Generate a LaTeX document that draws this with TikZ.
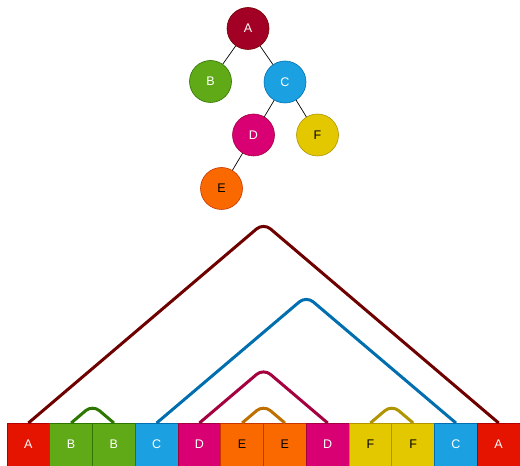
\documentclass[tikz,border=0pt]{standalone}
\usepackage{fontspec}
\setmainfont{Liberation Sans}
\usepackage{xcolor}
\usetikzlibrary{positioning,calc}

\definecolor{fillA}{HTML}{A20025}
\definecolor{fillAred}{HTML}{E51400}
\definecolor{fillB}{HTML}{60A917}
\definecolor{fillC}{HTML}{1BA1E2}
\definecolor{fillD}{HTML}{D80073}
\definecolor{fillE}{HTML}{FA6800}
\definecolor{fillF}{HTML}{E3C800}
\definecolor{lineA}{HTML}{6F0000}
\definecolor{lineAred}{HTML}{B20000}
\definecolor{lineB}{HTML}{2D7600}
\definecolor{lineC}{HTML}{006EAF}
\definecolor{lineD}{HTML}{A50040}
\definecolor{lineE}{HTML}{C73500}
\definecolor{lineF}{HTML}{B09500}
\definecolor{arcE}{HTML}{BD7000}

\begin{document}
\begin{tikzpicture}[x=1pt,y=1pt,
  vertex/.style={draw,circle,minimum size=42pt,inner sep=0pt,font=\fontsize{12.5}{14}\selectfont,line width=0.6pt},
  cell/.style={draw,rectangle,minimum width=42.75pt,minimum height=43pt,inner sep=0pt,outer sep=0pt,font=\fontsize{12.5}{14}\selectfont,line width=0.8pt},
  edge/.style={line width=0.7pt,black},
  span/.style={line width=3pt,rounded corners=9pt}
]
\useasboundingbox (0,0) rectangle (520,466);

% Tree
\node[vertex,fill=fillA,draw=lineA,text=white] (ta) at (248,437.5) {A};
\node[vertex,fill=fillB,draw=lineB,text=white] (tb) at (210.5,384.5) {B};
\node[vertex,fill=fillC,draw=lineC,text=white] (tc) at (285,384) {C};
\node[vertex,fill=fillD,draw=lineD,text=white] (td) at (253.5,331) {D};
\node[vertex,fill=fillF,draw=lineF,text=black] (tf) at (317.5,331) {F};
\node[vertex,fill=fillE,draw=lineE,text=black] (te) at (221.5,277.5) {E};

\draw[edge] (ta) -- (tb);
\draw[edge] (ta) -- (tc);
\draw[edge] (tc) -- (td);
\draw[edge] (tc) -- (tf);
\draw[edge] (td) -- (te);

% Euler tour cells
\node[cell,fill=fillAred,draw=lineAred,text=white] (c1) at (28.4,21.5) {A};
\node[cell,fill=fillB,draw=lineB,text=white,right=0pt of c1] (c2) {B};
\node[cell,fill=fillB,draw=lineB,text=white,right=0pt of c2] (c3) {B};
\node[cell,fill=fillC,draw=lineC,text=white,right=0pt of c3] (c4) {C};
\node[cell,fill=fillD,draw=lineD,text=white,right=0pt of c4] (c5) {D};
\node[cell,fill=fillE,draw=lineE,text=black,right=0pt of c5] (c6) {E};
\node[cell,fill=fillE,draw=lineE,text=black,right=0pt of c6] (c7) {E};
\node[cell,fill=fillD,draw=lineD,text=white,right=0pt of c7] (c8) {D};
\node[cell,fill=fillF,draw=lineF,text=black,right=0pt of c8] (c9) {F};
\node[cell,fill=fillF,draw=lineF,text=black,right=0pt of c9] (c10) {F};
\node[cell,fill=fillC,draw=lineC,text=white,right=0pt of c10] (c11) {C};
\node[cell,fill=fillAred,draw=lineAred,text=white,right=0pt of c11] (c12) {A};

% Peaks of the spans
\coordinate (peakA) at ($(c1.north)!0.5!(c12.north)+(0,200)$);
\coordinate (peakC) at ($(c4.north)!0.5!(c11.north)+(0,127)$);
\coordinate (peakD) at ($(c5.north)!0.5!(c8.north)+(0,54.5)$);
\coordinate (peakB) at ($(c2.north)!0.5!(c3.north)+(0,18.2)$);
\coordinate (peakE) at ($(c6.north)!0.5!(c7.north)+(0,18.2)$);
\coordinate (peakF) at ($(c9.north)!0.5!(c10.north)+(0,18.2)$);

% Spans
\draw[span,lineA] (c1.north) -- (peakA) -- (c12.north);
\draw[span,lineC] (c4.north) -- (peakC) -- (c11.north);
\draw[span,lineD] (c5.north) -- (peakD) -- (c8.north);
\draw[span,lineB] (c2.north) -- (peakB) -- (c3.north);
\draw[span,arcE] (c6.north) -- (peakE) -- (c7.north);
\draw[span,lineF] (c9.north) -- (peakF) -- (c10.north);

\end{tikzpicture}
\end{document}
